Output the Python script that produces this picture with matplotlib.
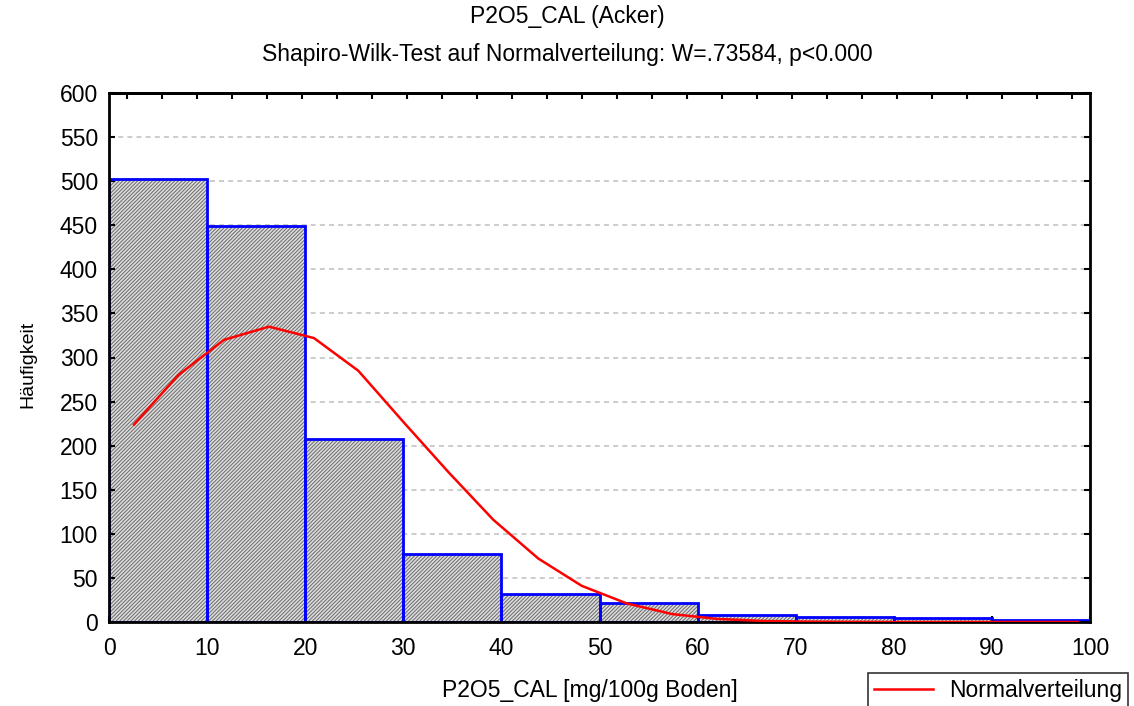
import matplotlib
matplotlib.use("Agg")
import matplotlib.pyplot as plt
import numpy as np

plt.rcParams['font.family'] = ['Liberation Sans', 'DejaVu Sans']
plt.rcParams['hatch.linewidth'] = 0.7

# histogram classes (lower edges) and counts
bin_edges = [0, 10, 20, 30, 40, 50, 60, 70, 80, 90, 100]
counts = [503, 449, 207, 77, 32, 21, 8, 6, 4, 2]

# fitted normal curve
curve_x = [2.55, 7.06, 11.72, 16.31, 20.9, 25.41, 30.0, 34.6, 39.17, 43.76,
           48.19, 52.8, 57.4, 62.0, 66.6, 71.2, 75.8, 80.4, 85.0, 89.6, 94.2, 98.8]
curve_y = [224, 280, 320, 335, 322, 285, 227, 170, 116, 72,
           41, 21, 9, 3.5, 1.2, 0.4, 0.1, 0, 0, 0, 0, 0]

fig = plt.figure(figsize=(11.34, 7.06), dpi=100)
ax = fig.add_axes([109/1134, 1-622/706, (1090-109)/1134, (622-93)/706])

left = np.array(bin_edges[:-1])
width = np.diff(bin_edges)

for y in range(50, 600, 50):
    ax.axhline(y, color='#c4c4c4', lw=1.2, ls=(0, (3, 2.5)), zorder=0)

ax.bar(left, counts, width=width, align='edge', facecolor='#dcdcdc',
       edgecolor='#6a6a6a', hatch='/' * 9, linewidth=0, zorder=1)
ax.bar(left, counts, width=width, align='edge', fill=False,
       edgecolor='#0000ff', linewidth=2, zorder=2)

ax.plot(curve_x, curve_y, color='#ff0000', lw=1.8, zorder=3, label='Normalverteilung')

ax.set_xlim(0, 100)
ax.set_ylim(0, 600)
ax.set_xticks(range(0, 101, 10))
ax.set_yticks(range(0, 601, 50))
ax.tick_params(direction='in', length=4, width=1.5, labelsize=16.5)
ax.tick_params(axis='x', pad=11)
ax.tick_params(axis='y', pad=8)
ax.tick_params(right=True)
for s in ax.spines.values():
    s.set_linewidth(2)

# top ticks use a finer spacing in the original
sec = ax.secondary_xaxis('top')
sec.set_xticks(np.arange(1.8, 100, 3.57))
sec.tick_params(direction='in', length=4, width=1.5, labeltop=False)
sec.spines['top'].set_linewidth(2)

fig.text(590/1134, 1-690/706, 'P2O5_CAL [mg/100g Boden]', ha='center', va='center', fontsize=16.5)
fig.text(28/1134, 1-364/706, 'Häufigkeit', ha='center', va='center', rotation=90, fontsize=14)

fig.text(0.5, 1-16/706, 'P2O5_CAL (Acker)', ha='center', va='center', fontsize=16.5)
fig.text(0.5, 1-54/706, 'Shapiro-Wilk-Test auf Normalverteilung: W=.73584, p<0.000',
         ha='center', va='center', fontsize=16.5)

leg = fig.legend(loc='upper left', bbox_to_anchor=(868/1134, 1-673/706),
                 fontsize=16.5, frameon=True, fancybox=False, borderaxespad=0,
                 handlelength=2.6, borderpad=0.25, handletextpad=0.7)
leg.get_frame().set_edgecolor('black')
leg.get_frame().set_linewidth(1.2)

fig.savefig('out.png', dpi=100)
